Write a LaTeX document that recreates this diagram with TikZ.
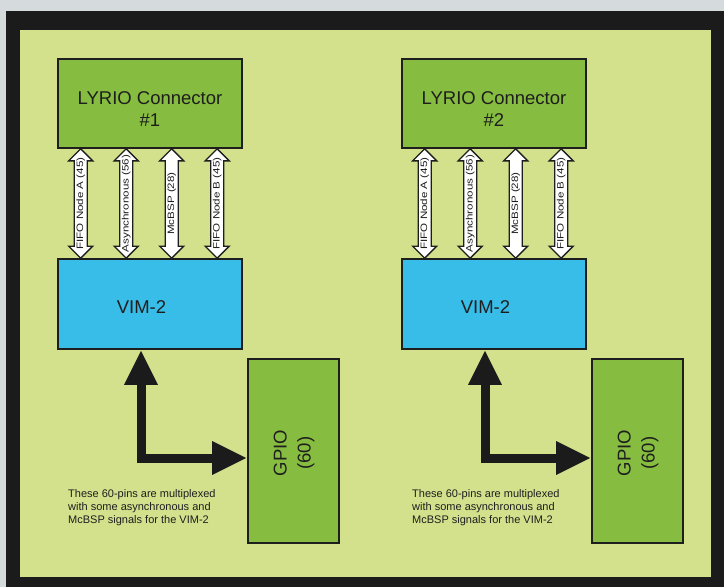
\documentclass[tikz,border=0pt]{standalone}
\usepackage{fontspec}
\usepackage{graphicx}
\setmainfont{Liberation Sans}
\usetikzlibrary{calc,arrows.meta}
\definecolor{bggrey}{HTML}{D5DADD}
\definecolor{frameblk}{HTML}{1B1B1B}
\definecolor{panel}{HTML}{D3E08C}
\definecolor{boxgreen}{HTML}{86BC3F}
\definecolor{boxblue}{HTML}{38BDE8}
\definecolor{ink}{HTML}{1E1E1E}
\begin{document}
\begin{tikzpicture}[x=1pt,y=-1pt,
  box/.style={draw=ink, line width=1.6pt, inner sep=0pt, rectangle},
  big/.style={font=\fontsize{18.5}{22}\selectfont, text=ink, align=center, inner sep=0pt},
  dbl/.style={draw=ink, line width=1.4pt, fill=white, line join=miter},
  sig/.style={font=\fontsize{11.6}{11.6}\selectfont, text=ink, rotate=90, inner sep=0pt},
  fat/.style={draw=frameblk, line width=9pt, line join=miter, {Triangle[width=31pt,length=35pt]}-{Triangle[width=31pt,length=35pt]}},
  note/.style={font=\fontsize{11}{13}\selectfont, text=ink, align=left, anchor=north west, inner sep=0pt}]
\useasboundingbox (0,0) rectangle (724,587);
\fill[bggrey] (0,0) rectangle (724,587);
\fill[frameblk] (6,11) rectangle (724,587);
\fill[panel] (19.5,29.5) rectangle (711,577);

\foreach \k/\dx in {1/0, 2/344}{
  \node[box, fill=boxgreen, minimum width=184pt, minimum height=89pt] (l\k) at (150+\dx,103.5) {};
  \node[big] (lt\k) at (150+\dx,109) {LYRIO Connector\\\#\k};
  \node[box, fill=boxblue, minimum width=184pt, minimum height=90pt] (v\k) at (150+\dx,304) {};
  \node[big] (vt\k) at (141.5+\dx,307) {VIM-2};
  \node[box, fill=boxgreen, minimum width=91pt, minimum height=184pt] (g\k) at (293.5+\dx,451) {};
  \node[big, rotate=90, font=\fontsize{18.5}{24}\selectfont] (gt\k) at (294+\dx,453) {GPIO\\(60)};
  \foreach \i/\off/\lab in {1/23.5/FIFO Node A (45), 2/69/Asynchronous (56), 3/114.5/McBSP (28), 4/160/FIFO Node B (45)}{
    \draw[dbl] let \p1=($(l\k.south west)+(\off,0)$), \p2=(v\k.north) in
      (\x1,\y1) -- ({\x1+12pt},{\y1-12pt}) -- ({\x1+6.5pt},{\y1-12pt}) -- ({\x1+6.5pt},{\y2+12pt})
      -- ({\x1+12pt},{\y2+12pt}) -- (\x1,\y2) -- ({\x1-12pt},{\y2+12pt}) -- ({\x1-6.5pt},{\y2+12pt})
      -- ({\x1-6.5pt},{\y1-12pt}) -- ({\x1-12pt},{\y1-12pt}) -- cycle
      node[sig] (s\k\i) at (\x1,{(\y1+\y2)/2}) {\scalebox{1}[0.8]{\lab}};
  }
  \draw[fat] ($(v\k.south)+(-9,0)$) |- ($(g\k.west)+(0,7)$);
  \node[note] (n\k) at (68+\dx,489) {These 60-pins are multiplexed\\with some asynchronous and\\McBSP signals for the VIM-2};
}
\end{tikzpicture}
\end{document}
